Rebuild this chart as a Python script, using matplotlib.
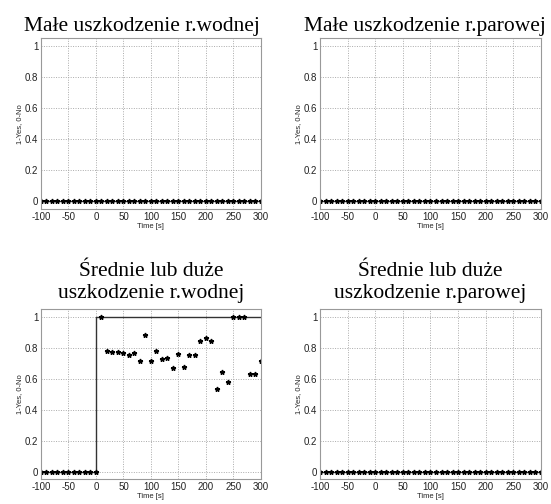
import matplotlib
matplotlib.use("Agg")
import matplotlib.pyplot as plt
import numpy as np

plt.rcParams["axes.unicode_minus"] = False
plt.rcParams["font.family"] = "Liberation Sans"

# time axis, one sample every 10 s
time_s = np.arange(-100, 301, 10)

# decision of the detector for each fault type (1 - yes, 0 - no)
small_water = np.zeros(len(time_s))
small_steam = np.zeros(len(time_s))
large_steam = np.zeros(len(time_s))
large_water = np.array([0, 0, 0, 0, 0, 0, 0, 0, 0, 0, 0,
                        1.0, 0.78, 0.775, 0.77, 0.765, 0.755, 0.765, 0.715, 0.88, 0.715,
                        0.78, 0.725, 0.735, 0.67, 0.76, 0.675, 0.75, 0.755, 0.845, 0.86,
                        0.845, 0.53, 0.64, 0.58, 1.0, 1.0, 1.0, 0.63, 0.63, 0.715])

# true fault signal (step at t = 0 for the water leak)
step_t = [-100, 0, 0, 300]
step_large_water = [0, 0, 1, 1]
step_zero = [0, 0, 0, 0]

titles = ["Małe uszkodzenie r.wodnej", "Małe uszkodzenie r.parowej",
          "Średnie lub duże\nuszkodzenie r.wodnej", "Średnie lub duże\nuszkodzenie r.parowej"]
series = [small_water, small_steam, large_water, large_steam]
steps = [step_zero, step_zero, step_large_water, step_zero]
title_x = [0.46, 0.475, 0.5, 0.5]
title_pad = [5, 5, 8, 8]

fig = plt.figure(figsize=(5.51, 5.04), dpi=100)
positions = [[0.0744, 0.585, 0.399, 0.339], [0.5808, 0.585, 0.401, 0.339],
             [0.0744, 0.049, 0.399, 0.338], [0.5808, 0.049, 0.401, 0.338]]

for i, (pos, title, y, st) in enumerate(zip(positions, titles, series, steps)):
    ax = fig.add_axes(pos)
    ax.plot(step_t, st, color="#333333", lw=1.0)
    ax.plot(time_s, y, linestyle="none", marker="*", markersize=3.5, color="black")
    ax.set_xlim(-100, 300)
    ax.set_ylim(-0.05, 1.05)
    ax.set_xticks(np.arange(-100, 301, 50))
    ax.set_yticks([0, 0.2, 0.4, 0.6, 0.8, 1])
    ax.set_yticklabels(["0", "0.2", "0.4", "0.6", "0.8", "1"])
    ax.grid(True, linestyle=(0, (1, 1.5)), color="#aaaaaa", lw=0.7)
    ax.tick_params(labelsize=7, length=0, pad=2, colors="#222222")
    for s in ax.spines.values():
        s.set_color("#999999")
    ax.set_xlabel("Time [s]", fontsize=5.5, labelpad=1, color="#222222")
    ax.set_ylabel("1-Yes, 0-No", fontsize=5.5, labelpad=1, color="#222222")
    ax.set_title(title, fontsize=15.5, family="Liberation Serif", x=title_x[i],
                 pad=title_pad[i], linespacing=1.2)

fig.savefig("out.png", dpi=100)
